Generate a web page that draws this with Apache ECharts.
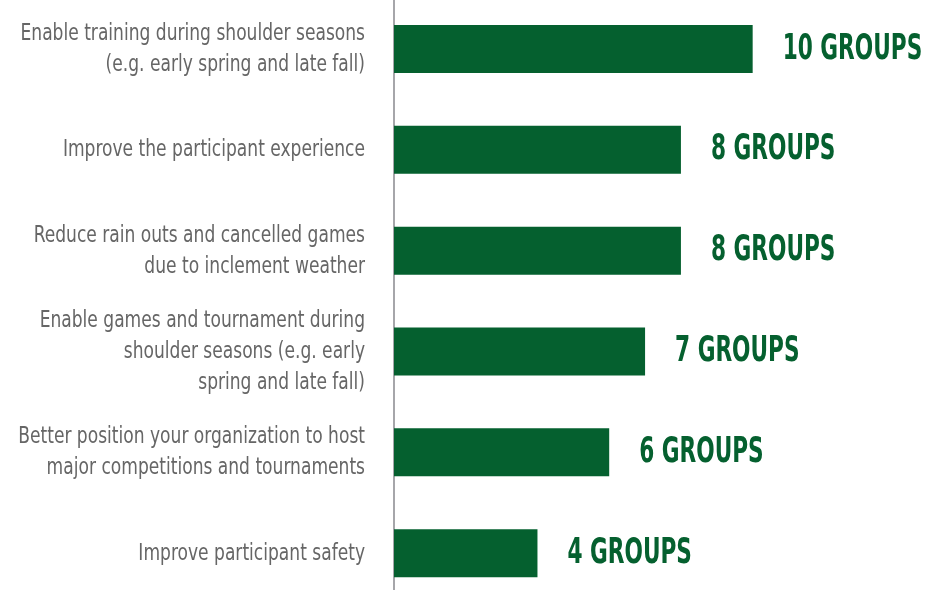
<!DOCTYPE html>
<html><head><meta charset="utf-8">
<script src="https://cdn.jsdelivr.net/npm/echarts@6/dist/echarts.min.js"></script>
<style>html,body{margin:0;padding:0;background:#fff}#c{width:940px;height:590px}</style>
</head><body><div id="c"></div>
<script>
const categories = [
  'Enable training during shoulder seasons\n(e.g. early spring and late fall)',
  'Improve the participant experience',
  'Reduce rain outs and cancelled games\ndue to inclement weather',
  'Enable games and tournament during\nshoulder seasons (e.g. early\nspring and late fall)',
  'Better position your organization to host\nmajor competitions and tournaments',
  'Improve participant safety'
];
const values = [10, 8, 8, 7, 6, 4];
const valueSuffix = ' GROUPS';

const NARROW = '"Liberation Sans Narrow", "DejaVu Sans Condensed", sans-serif';
const GREEN = '#05602f';

const chart = echarts.init(document.getElementById('c'), null, {renderer: 'canvas'});
chart.setOption({
  animation: false,
  backgroundColor: '#ffffff',
  grid: {left: 394, top: -1.4, width: 538, height: 605, outerBoundsMode: 'none', containLabel: false},
  xAxis: {type: 'value', min: 0, max: 15, show: false},
  yAxis: {
    type: 'category', inverse: true, data: categories, offset: 2,
    axisLine: {show: true, lineStyle: {color: '#a6a6aa', width: 2}},
    axisTick: {show: false},
    splitLine: {show: false},
    axisLabel: {show: false}
  },
  series: [
    {
      type: 'bar', data: values, barWidth: 48,
      itemStyle: {color: GREEN}
    },
    {
      // value labels ("10 GROUPS"), tall condensed look
      type: 'custom', clip: false, silent: true,
      data: values.map((v, i) => [v, i]),
      renderItem: function (params, api) {
        const p = api.coord([api.value(0), api.value(1)]);
        return {
          type: 'text', x: p[0] + 30, y: p[1] + 0.5, scaleX: 0.83, scaleY: 1.2,
          style: {
            text: values[params.dataIndex] + valueSuffix,
            font: 'bold 29px ' + NARROW, fill: GREEN,
            align: 'left', verticalAlign: 'middle'
          }
        };
      }
    },
    {
      // category labels
      type: 'custom', clip: false, silent: true,
      data: categories.map((c, i) => [0, i]),
      renderItem: function (params, api) {
        const p = api.coord([0, api.value(1)]);
        return {
          type: 'text', x: 365, y: p[1] + 0.5, scaleX: 1, scaleY: 1.2,
          style: {
            text: categories[params.dataIndex],
            font: '19px ' + NARROW, fill: '#666666',
            lineHeight: 26, align: 'right', verticalAlign: 'middle'
          }
        };
      }
    }
  ]
});
</script></body></html>
